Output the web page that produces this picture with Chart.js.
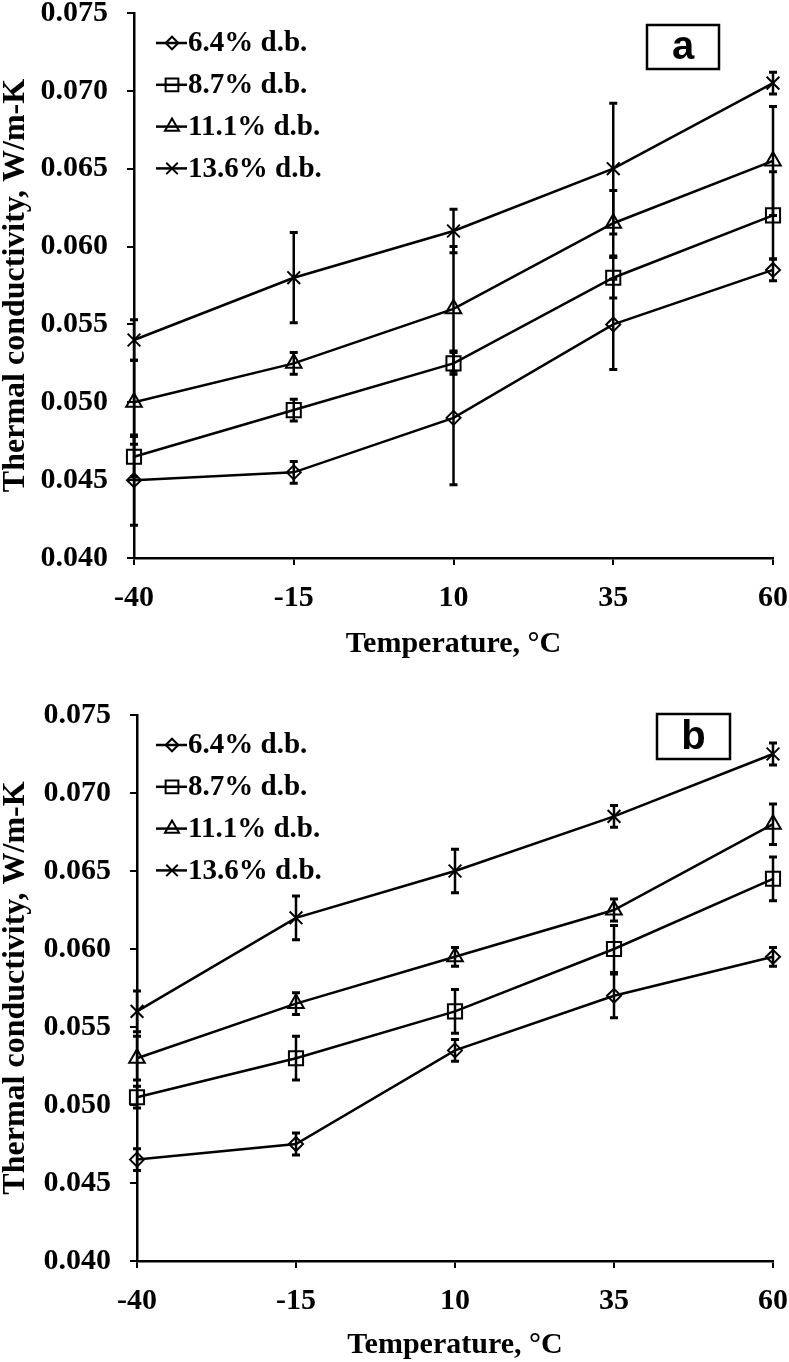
<!DOCTYPE html>
<html>
<head>
<meta charset="utf-8">
<script src="https://cdn.jsdelivr.net/npm/chart.js@4.4.0/dist/chart.umd.min.js"></script>
<style>
html, body { margin: 0; padding: 0; background: #fff; overflow: hidden; }
canvas { display: block; position: absolute; left: 0; }
</style>
</head>
<body>
<canvas id="chartA" width="803" height="705" style="top:-24px"></canvas>
<canvas id="chartB" width="803" height="684" style="top:678px"></canvas>
<script>
// x categories and series names
const temps = ['-40', '-15', '10', '35', '60'];
const seriesNames = ['6.4% d.b.', '8.7% d.b.', '11.1% d.b.', '13.6% d.b.'];
const markers = ['rectRot', 'rect', 'triangle', 'crossRot'];
const markerSizes = [7, 10, 9, 9];

// panel a - thermal conductivity, W/m-K
const a64 = [0.0450, 0.0455, 0.0490, 0.0550, 0.0585];
const a87 = [0.0465, 0.0495, 0.0525, 0.0580, 0.0620];
const a111 = [0.0500, 0.0525, 0.0560, 0.0615, 0.0655];
const a136 = [0.0540, 0.0580, 0.0610, 0.0650, 0.0705];
// panel a - error (+/-)
const a64Err = [0.0029, 0.0007, 0.0043, 0.0029, 0.0007];
const a87Err = [0.0013, 0.0007, 0.0007, 0.0013, 0.0028];
const a111Err = [0.0027, 0.0007, 0.0040, 0.0021, 0.0035];
const a136Err = [0.0013, 0.0029, 0.0014, 0.0042, 0.0007];

// panel b
const b64 = [0.0465, 0.0475, 0.0535, 0.0570, 0.0595];
const b87 = [0.0505, 0.0530, 0.0560, 0.0600, 0.0645];
const b111 = [0.0530, 0.0565, 0.0595, 0.0625, 0.0680];
const b136 = [0.0560, 0.0620, 0.0650, 0.0685, 0.0725];
const b64Err = [0.0007, 0.0007, 0.0007, 0.0014, 0.0006];
const b87Err = [0.0007, 0.0014, 0.0014, 0.0015, 0.0014];
const b111Err = [0.0014, 0.0007, 0.0006, 0.0007, 0.0013];
const b136Err = [0.0013, 0.0014, 0.0014, 0.0007, 0.0007];

const yMin = 0.040, yMax = 0.075, yStep = 0.005;

const serif = 'Liberation Serif, Times New Roman, serif';

// vertical error bars with caps, drawn from the y scale
const errorBars = {
  id: 'errorBars',
  beforeDatasetsDraw(chart) {
    const ctx = chart.ctx;
    const ys = chart.scales.y;
    ctx.save();
    ctx.strokeStyle = '#000';
    chart.data.datasets.forEach((ds, i) => {
      const meta = chart.getDatasetMeta(i);
      meta.data.forEach((pt, j) => {
        const e = ds.errors[j];
        if (!e) return;
        const top = ys.getPixelForValue(ds.data[j] + e);
        const bot = ys.getPixelForValue(ds.data[j] - e);
        ctx.lineWidth = 2.5;
        ctx.beginPath();
        ctx.moveTo(pt.x, top);
        ctx.lineTo(pt.x, bot);
        ctx.stroke();
        ctx.lineWidth = 3;
        ctx.beginPath();
        ctx.moveTo(pt.x - 4, top); ctx.lineTo(pt.x + 4, top);
        ctx.moveTo(pt.x - 4, bot); ctx.lineTo(pt.x + 4, bot);
        ctx.stroke();
      });
    });
    ctx.restore();
  }
};

// legend inside the plot + boxed panel letter
const panelDecor = {
  id: 'panelDecor',
  afterDraw(chart, args, opts) {
    const ctx = chart.ctx;
    const area = chart.chartArea;
    ctx.save();
    chart.data.datasets.forEach((ds, i) => {
      const y = area.top + 30 + i * 41.8;
      ctx.strokeStyle = '#000';
      ctx.lineWidth = 2.5;
      ctx.beginPath();
      ctx.moveTo(156, y);
      ctx.lineTo(187, y);
      ctx.stroke();
      ctx.fillStyle = 'rgba(0,0,0,0)';
      ctx.lineWidth = 2;
      Chart.helpers.drawPoint(ctx, {
        pointStyle: ds.pointStyle, radius: ds.pointRadius * 0.9, borderWidth: 2, rotation: 0
      }, 172, y);
      ctx.fillStyle = '#000';
      ctx.font = 'bold 29px ' + serif;
      ctx.textAlign = 'left';
      ctx.textBaseline = 'middle';
      ctx.fillText(ds.label, 188, y + 1);
    });
    const b = opts.box;
    ctx.strokeStyle = '#000';
    ctx.lineWidth = 2.5;
    ctx.strokeRect(b.x, area.top + b.dy, b.w, b.h);
    ctx.fillStyle = '#000';
    ctx.font = 'bold 40px Liberation Sans, Arial, sans-serif';
    ctx.textAlign = 'center';
    ctx.textBaseline = 'middle';
    ctx.fillText(opts.letter, b.x + b.w / 2, area.top + b.dy + b.h / 2 + 1);
    ctx.restore();
  }
};

function makePanel(id, values, errors, letter, box, g) {
  const datasets = values.map((v, i) => ({
    label: seriesNames[i],
    data: v,
    errors: errors[i],
    borderColor: '#000',
    borderWidth: 2.5,
    pointStyle: markers[i],
    pointRadius: markerSizes[i],
    pointBorderColor: '#000',
    pointBorderWidth: 2,
    pointBackgroundColor: 'rgba(0,0,0,0)',
    tension: 0,
    clip: false
  }));
  return new Chart(document.getElementById(id), {
    type: 'line',
    data: { labels: temps, datasets: datasets },
    plugins: [errorBars, panelDecor],
    options: {
      responsive: false,
      animation: false,
      layout: { autoPadding: false, padding: { left: 0, right: 16, top: 36, bottom: g.padBottom } },
      plugins: {
        legend: { display: false },
        tooltip: { enabled: false },
        panelDecor: { letter: letter, box: box }
      },
      scales: {
        x: {
          offset: false,
          grid: { drawOnChartArea: false, drawTicks: true, tickLength: 7, color: '#000', lineWidth: 2 },
          border: { display: true, color: '#000', width: 2.5 },
          ticks: { color: '#000', padding: 15, maxRotation: 0, font: { family: serif, size: 30, weight: 'bold' } },
          title: {
            display: true, text: 'Temperature, \u00B0C', color: '#000', padding: 0,
            font: { family: serif, size: 30, weight: 'bold', lineHeight: 1 }
          },
          afterFit(s) { s.height = g.xHeight; }
        },
        y: {
          min: yMin, max: yMax,
          grid: { drawOnChartArea: false, drawTicks: true, tickLength: 7, color: '#000', lineWidth: 2 },
          border: { display: true, color: '#000', width: 2.5 },
          ticks: {
            stepSize: yStep, color: '#000', padding: 19,
            font: { family: serif, size: 30, weight: 'bold' },
            callback: v => v.toFixed(3)
          },
          title: {
            display: true, text: 'Thermal conductivity, W/m-K', color: '#000', padding: 0,
            font: { family: serif, size: 32, weight: 'bold', lineHeight: 1 }
          },
          afterFit(s) { s.width = g.left; }
        }
      }
    }
  });
}

makePanel('chartA', [a64, a87, a111, a136], [a64Err, a87Err, a111Err, a136Err], 'a',
  { x: 647, dy: 12, w: 72, h: 44 }, { left: 134, xHeight: 101, padBottom: 22 });
makePanel('chartB', [b64, b87, b111, b136], [b64Err, b87Err, b111Err, b136Err], 'b',
  { x: 657, dy: -1, w: 73, h: 45 }, { left: 137, xHeight: 99, padBottom: 2 });
</script>
</body>
</html>
